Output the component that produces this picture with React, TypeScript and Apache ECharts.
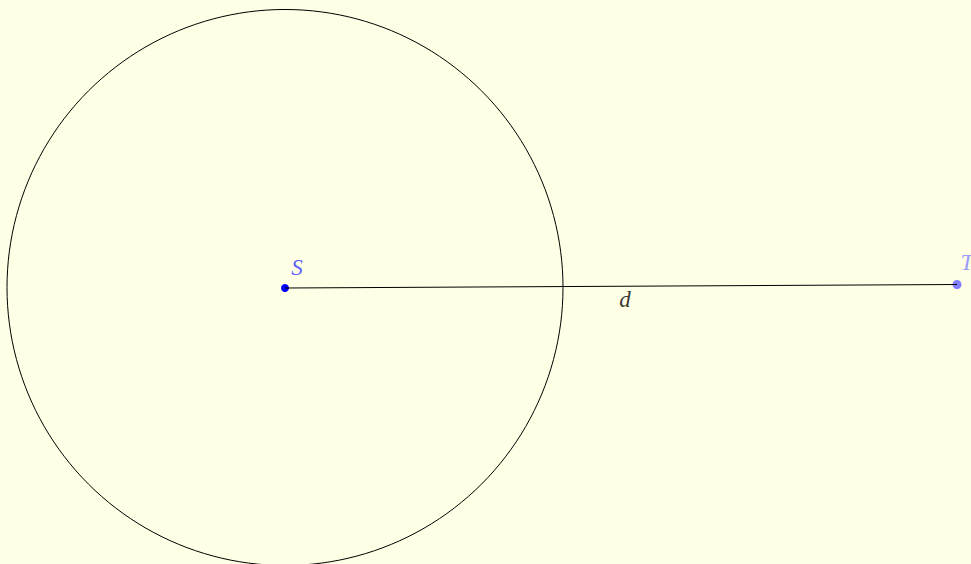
import React, { useEffect, useRef } from "react";
import * as echarts from "echarts";

// Geometry (figure units = pixels of the 971x564 canvas, y downward)
const circleCenter: [number, number] = [285, 287.5];
const circleRadius = 278;
const pointS: [number, number] = [285, 288];
const pointT: [number, number] = [957, 284.5];
const labelNames = ["S", "T", "d"];
const labelPositions: [number, number][] = [
  [297, 267],
  [967, 262],
  [625, 299],
];
const labelColors = ["#3333ff", "#8080ff", "#000000"];

const W = 971;
const H = 564;

export default function App() {
  const ref = useRef<HTMLDivElement>(null);
  useEffect(() => {
    document.body.style.margin = "0";
    const chart = echarts.init(ref.current!, null, { renderer: "svg" });
    chart.setOption({
      animation: false,
      backgroundColor: "#ffffe5",
      grid: { left: 0, right: 0, top: 0, bottom: 0 },
      xAxis: { type: "value", min: 0, max: W, show: false },
      yAxis: { type: "value", min: 0, max: H, inverse: true, show: false },
      series: [
        {
          type: "custom",
          silent: true,
          clip: false,
          data: [[circleCenter[0], circleCenter[1], circleRadius]],
          renderItem: (params: any, api: any) => {
            const c = api.coord([api.value(0), api.value(1)]);
            const r = api.size([api.value(2), 0])[0];
            return {
              type: "circle",
              shape: { cx: c[0], cy: c[1], r },
              style: { fill: "none", stroke: "#000000", lineWidth: 1 },
            };
          },
        },
        {
          type: "line",
          data: [pointS, pointT],
          symbol: "none",
          lineStyle: { color: "#000000", width: 1 },
          silent: true,
        },
        {
          type: "scatter",
          data: [pointS],
          symbolSize: 8,
          clip: false,
          itemStyle: { color: "#0000ff", opacity: 1 },
          silent: true,
        },
        {
          type: "scatter",
          data: [pointT],
          symbolSize: 9,
          clip: false,
          itemStyle: { color: "#7f7fff", opacity: 1 },
          silent: true,
        },
        {
          type: "scatter",
          symbolSize: 0,
          silent: true,
          clip: false,
          data: labelNames.map((n, i) => ({
            value: labelPositions[i],
            label: {
              show: true,
              formatter: n,
              position: "inside",
              color: labelColors[i],
              fontFamily: "Liberation Serif",
              fontStyle: "italic",
              fontSize: 23,
              align: "center",
              verticalAlign: "middle",
            },
          })),
        },
      ],
    });
    return () => chart.dispose();
  }, []);
  return (
    <div
      ref={ref}
      style={{ position: "absolute", left: 0, top: 0, width: W, height: H }}
    />
  );
}
